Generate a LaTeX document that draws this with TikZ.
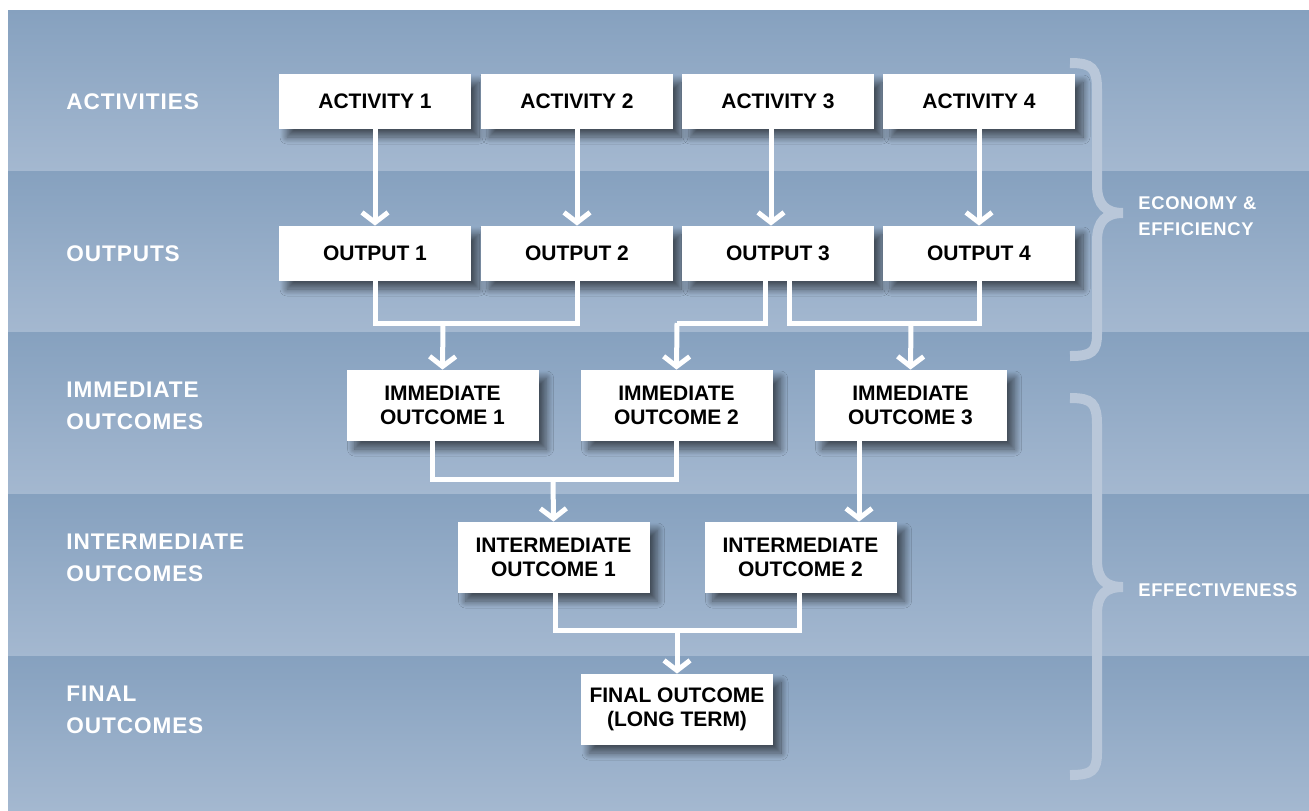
\documentclass[tikz,border=0pt]{standalone}
\usepackage{fontspec}
\setmainfont{Liberation Sans}
\usepackage{tikz}
\usetikzlibrary{arrows.meta, shadows.blur}

\definecolor{bandtop}{HTML}{86A1BF}
\definecolor{bandbot}{HTML}{A4B8D0}
\definecolor{bracecol}{HTML}{B9C7D9}

\begin{document}
\begin{tikzpicture}[x=0.5pt, y=-0.5pt,
	box node/.style={rectangle, fill=white, minimum width=96pt, minimum height=27.5pt, inner sep=0pt, align=center, text=black, font=\fontsize{10.5}{12}\selectfont\bfseries, blur shadow={shadow xshift=4pt, shadow yshift=-4pt, shadow blur radius=3.5pt, shadow blur steps=16, shadow opacity=55}},
	tall node/.style={box node, minimum height=35.5pt},
	band label/.style={anchor=west, inner sep=0pt, align=left, text=white, font=\fontsize{11.3}{15.75}\selectfont\bfseries\addfontfeature{LetterSpace=4}},
	side label/.style={anchor=west, inner sep=0pt, align=left, text=white, font=\fontsize{9.2}{13}\selectfont\bfseries\addfontfeature{LetterSpace=3.5}},
	link/.style={draw=white, line width=2.5pt, line join=miter},
	arrow/.style={link, -{Straight Barb[length=5pt, width=13pt]}},
	brace/.style={draw=bracecol, line width=5pt}]

			\useasboundingbox (0,0) rectangle (1309,810);

			% bands
			\shade[top color=bandtop, bottom color=bandbot] (8,10) rectangle (1309,171);
			\shade[top color=bandtop, bottom color=bandbot] (8,171) rectangle (1309,332);
			\shade[top color=bandtop, bottom color=bandbot] (8,332) rectangle (1309,494);
			\shade[top color=bandtop, bottom color=bandbot] (8,494) rectangle (1309,656);
			\shade[top color=bandtop, bottom color=bandbot] (8,656) rectangle (1309,810);

			\node[band label] (lact) at (66,102) {ACTIVITIES};
			\node[band label] (lout) at (66,254) {OUTPUTS};
			\node[band label] (limm) at (66,406) {IMMEDIATE\\OUTCOMES};
			\node[band label] (lint) at (66,558) {INTERMEDIATE\\OUTCOMES};
			\node[band label] (lfin) at (66,710) {FINAL\\OUTCOMES};

			\node[box node] (a1) at (375,101.5) {ACTIVITY 1};
			\node[box node] (a2) at (577,101.5) {ACTIVITY 2};
			\node[box node] (a3) at (778,101.5) {ACTIVITY 3};
			\node[box node] (a4) at (979,101.5) {ACTIVITY 4};

			\node[box node] (o1) at (375,253.5) {OUTPUT 1};
			\node[box node] (o2) at (577,253.5) {OUTPUT 2};
			\node[box node] (o3) at (778,253.5) {OUTPUT 3};
			\node[box node] (o4) at (979,253.5) {OUTPUT 4};

			\node[tall node] (io1) at (442.5,405.5) {IMMEDIATE\\OUTCOME 1};
			\node[tall node] (io2) at (676.5,405.5) {IMMEDIATE\\OUTCOME 2};
			\node[tall node] (io3) at (910.5,405.5) {IMMEDIATE\\OUTCOME 3};

			\node[tall node] (in1) at (553.5,557.5) {INTERMEDIATE\\OUTCOME 1};
			\node[tall node] (in2) at (800.5,557.5) {INTERMEDIATE\\OUTCOME 2};

			\node[tall node] (fin) at (677,709.5) {FINAL OUTCOME\\(LONG TERM)};

			% activities to outputs
			\draw[arrow] (a1) -- (o1);
			\draw[arrow] (a2) -- (o2);
			\draw[arrow] ([xshift=-3.5pt]a3.south) -- ([xshift=-3.5pt]o3.north);
			\draw[arrow] (a4) -- (o4);

			% outputs to immediate outcomes
			\coordinate (j1) at (443,323);
			\coordinate (j2) at (677,323);
			\coordinate (j3) at (911,323);
			\draw[link] (o1.south) |- (j1) -| (o2.south);
			\draw[arrow] (j1) -- (io1.north);
			\draw[link] ([xshift=-6.5pt]o3.south) |- (j2);
			\draw[arrow] (j2) -- (io2.north);
			\draw[link] ([xshift=5.5pt]o3.south) |- (j3) -| (o4.south);
			\draw[arrow] (j3) -- (io3.north);

			% immediate to intermediate
			\coordinate (j4) at (553,479);
			\draw[link] ([xshift=-5pt]io1.south) |- (j4) -| (io2.south);
			\draw[arrow] (j4) -- (in1.north);
			\draw[arrow] ([xshift=-25.75pt]io3.south) -- ([xshift=-25.75pt]io3.south |- in2.north);

			% intermediate to final
			\coordinate (j5) at (677,630);
			\draw[link] ([xshift=0.75pt]in1.south) |- (j5) -| ([xshift=-0.75pt]in2.south);
			\draw[arrow] (j5) -- (fin.north);

			% braces
			\draw[brace] (1070,63) .. controls (1092,63) and (1097,68) .. (1097,90) -- (1097,185) .. controls (1097,205) and (1106,213) .. (1123,213) .. controls (1106,213) and (1097,221) .. (1097,241) -- (1097,333) .. controls (1097,352) and (1092,356) .. (1070,356);
			\draw[brace] (1070,398) .. controls (1092,398) and (1097,403) .. (1097,425) -- (1097,560) .. controls (1097,580) and (1106,587) .. (1123,587) .. controls (1106,587) and (1097,594) .. (1097,614) -- (1097,752) .. controls (1097,771) and (1092,775) .. (1070,775);

			\node[side label] (econ) at (1138,216) {ECONOMY \&\\EFFICIENCY};
			\node[side label] (eff) at (1138,590) {EFFECTIVENESS};

		\end{tikzpicture}
\end{document}
